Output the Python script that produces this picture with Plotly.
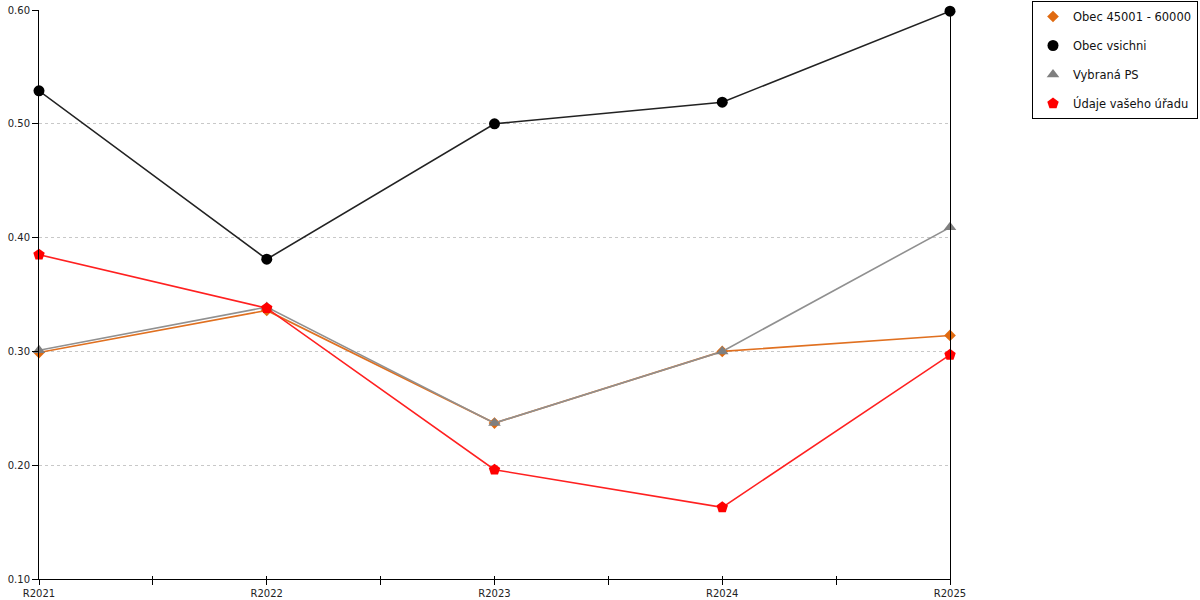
import plotly.graph_objects as go

# Years on the x axis and the four series
years = ["R2021", "R2022", "R2023", "R2024", "R2025"]

obec_45001_60000 = [0.299, 0.336, 0.237, 0.300, 0.314]
obec_vsichni = [0.529, 0.381, 0.500, 0.519, 0.599]
vybrana_ps = [0.301, 0.339, 0.237, 0.300, 0.409]
udaje_uradu = [0.385, 0.338, 0.196, 0.163, 0.297]

y_ticks = [0.10, 0.20, 0.30, 0.40, 0.50, 0.60]

x_pos = list(range(len(years)))

series = [
    ("Obec 45001 - 60000", obec_45001_60000, "#e07020", "#e06a10", "diamond", 9),
    ("Obec vsichni", obec_vsichni, "#222222", "#000000", "circle", 11),
    ("Vybraná PS", vybrana_ps, "#909090", "#7f7f7f", "triangle-up", 11),
    ("Údaje vašeho úřadu", udaje_uradu, "#ff2020", "#ff0000", "pentagon", 12),
]

fig = go.Figure()
for i, (name, vals, lc, mc, sym, size) in enumerate(series):
    # line without legend entry, markers carry the legend symbol
    fig.add_trace(go.Scatter(
        x=x_pos, y=vals, name=name, mode="lines",
        line=dict(color=lc, width=1.6), showlegend=False,
        legendgroup="g%d" % i, hoverinfo="skip",
    ))
    fig.add_trace(go.Scatter(
        x=x_pos, y=vals, name=name, mode="markers",
        marker=dict(color=mc, symbol=sym, size=size),
        cliponaxis=False, legendgroup="g%d" % i,
    ))

# ticks at categories and half-way points
tick_vals = [v / 2 for v in range(2 * len(years) - 1)]
tick_text = [years[int(v)] if v == int(v) else "" for v in tick_vals]

fig.update_layout(
    width=1200, height=600,
    margin=dict(l=39, r=250, t=10, b=21, autoexpand=False),
    paper_bgcolor="white", plot_bgcolor="white",
    font=dict(family="DejaVu Sans", size=10, color="#222222"),
    showlegend=True,
    legend=dict(
        x=(1198 - 39) / 911, y=1 + 9 / 569, xanchor="right", yanchor="top",
        bordercolor="black", borderwidth=1, font=dict(size=11.5, color="#111111"),
        tracegroupgap=10, itemwidth=30,
    ),
    xaxis=dict(
        range=[0, len(years) - 1], tickvals=tick_vals, ticktext=tick_text,
        ticks="outside", ticklen=5, tickcolor="black", showgrid=False,
        showline=True, linecolor="black", linewidth=1, zeroline=False,
        automargin=False,
    ),
    xaxis2=dict(
        range=[0, len(years) - 1], tickvals=tick_vals, overlaying="x",
        ticks="inside", ticklen=3, tickcolor="black", showticklabels=False,
        showgrid=False, showline=False, zeroline=False, side="bottom",
    ),
    yaxis=dict(
        range=[0.10, 0.60], tickvals=y_ticks, tickformat=".2f",
        ticks="outside", ticklen=6, tickcolor="black",
        showline=True, linecolor="black", linewidth=1, mirror=True,
        showgrid=True, gridcolor="#c8c8c8", griddash="dot", gridwidth=1,
        zeroline=False, automargin=False,
    ),
)

# dummy trace so the overlay axis with inner tick halves is drawn
fig.add_trace(go.Scatter(x=[0], y=[0.1], xaxis="x2", mode="markers",
                         marker=dict(opacity=0), showlegend=False,
                         hoverinfo="skip"))

# drop the default page margin so the figure sits at the window corner
fig.write_html("out.html", config={"displayModeBar": False},
               post_script="document.body.style.margin='0';")
